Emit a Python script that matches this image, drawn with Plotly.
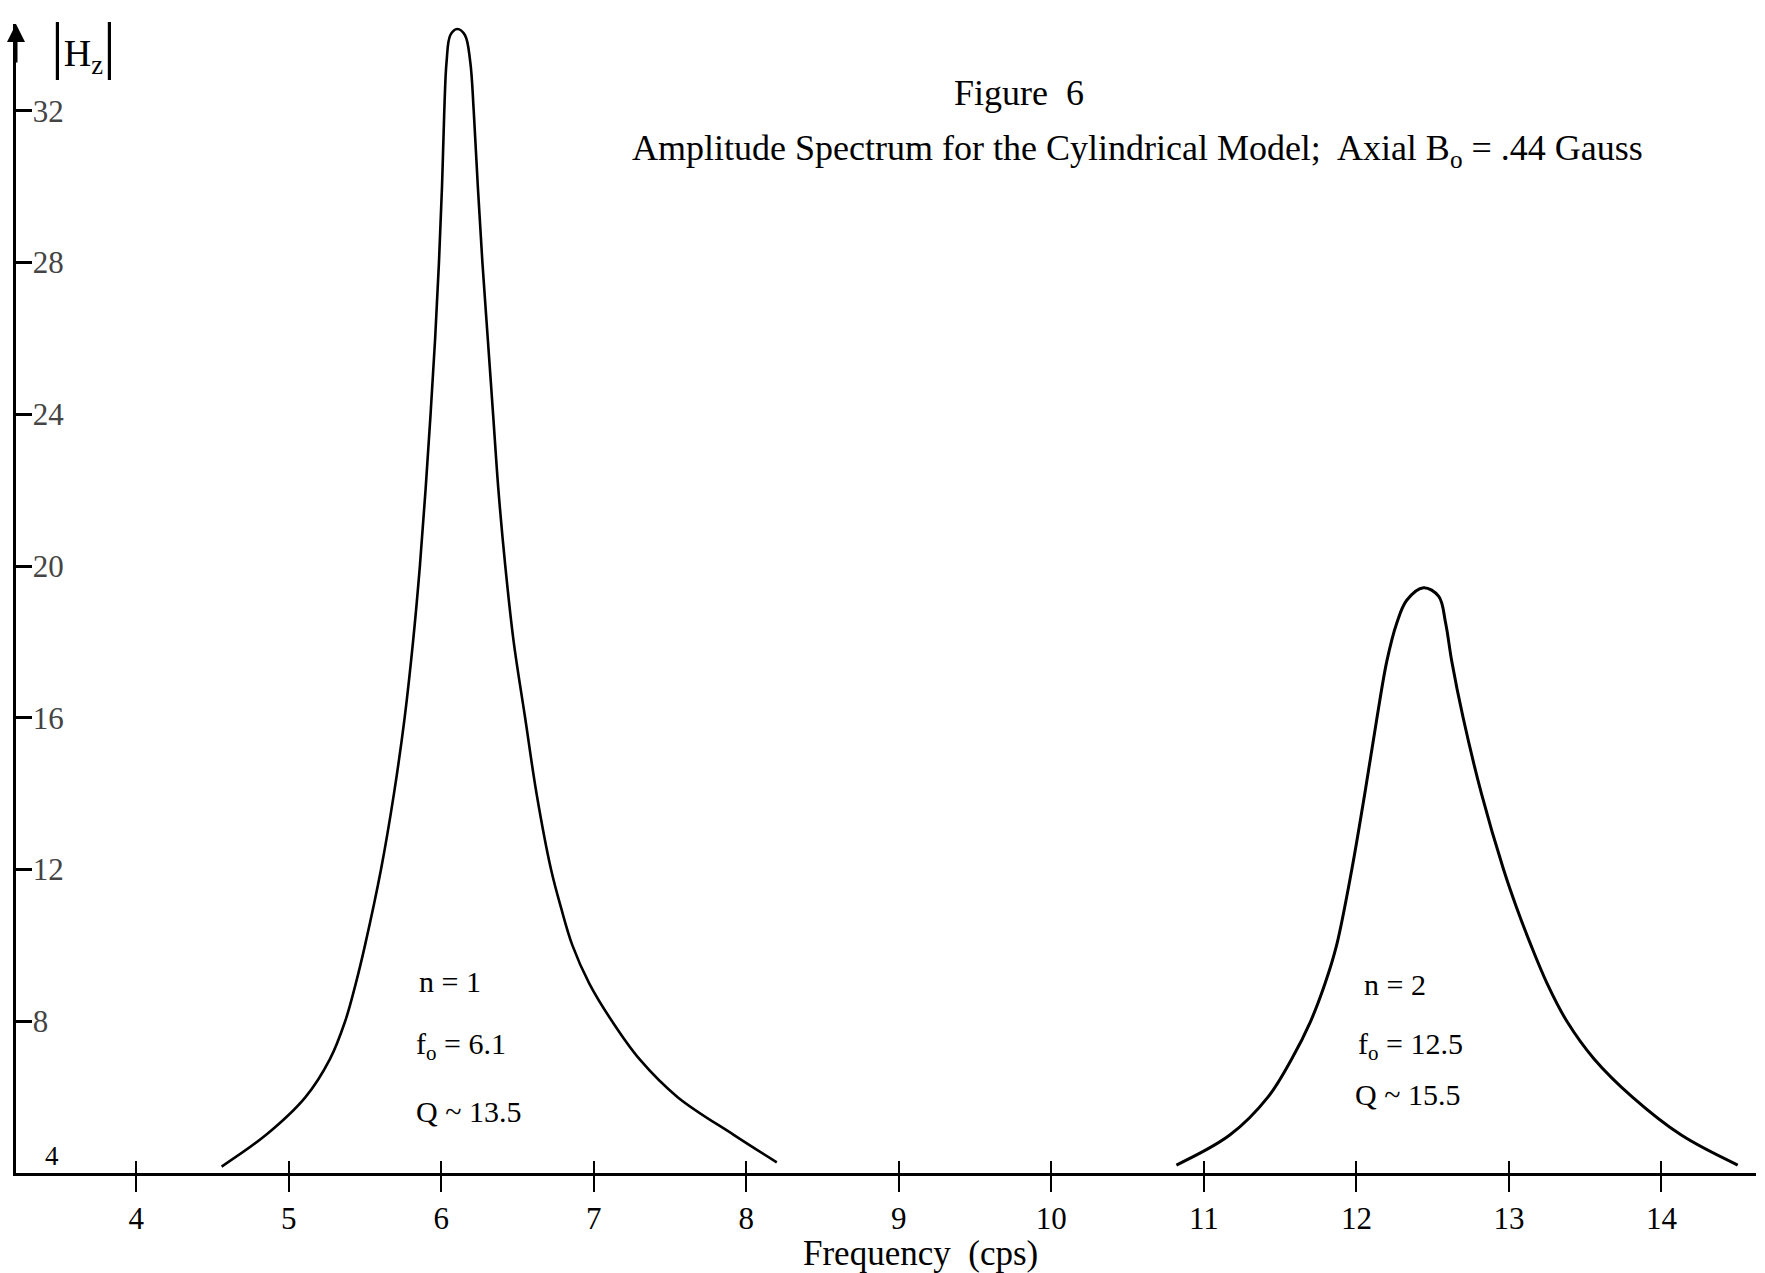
import plotly.graph_objects as go

# ---- data ----
freq_n1 = [4.56, 4.85, 5.11, 5.27, 5.37, 5.44, 5.50, 5.605, 5.69, 5.76, 5.815, 5.86,
           5.897, 5.93, 5.96, 5.985, 6.005, 6.02, 6.035, 6.06, 6.105,
           6.155, 6.19, 6.213, 6.24, 6.27, 6.305, 6.34, 6.375, 6.42, 6.475, 6.55,
           6.625, 6.72, 6.785, 6.86, 6.97, 7.12, 7.30, 7.55, 7.92, 8.20]
hz_n1 = [4.17, 5.0, 6.0, 7.0, 8.0, 9.0, 10.0, 12.0, 14.0, 16.0, 18.0, 20.0,
         22.0, 24.0, 26.0, 28.0, 30.0, 32.0, 33.3, 34.0, 34.16,
         34.0, 33.3, 32.0, 30.0, 28.0, 26.0, 24.0, 22.0, 20.0, 18.0, 16.0,
         14.0, 12.0, 11.0, 10.0, 9.0, 8.0, 7.0, 6.0, 5.0, 4.28]

freq_n2 = [10.82, 11.17, 11.42, 11.575, 11.70, 11.795, 11.87, 11.97, 12.055, 12.135,
           12.20, 12.265, 12.33, 12.44, 12.54, 12.585, 12.625, 12.70, 12.82, 12.965,
           13.05, 13.145, 13.25, 13.38, 13.56, 13.81, 14.13, 14.50]
hz_n2 = [4.21, 5.0, 6.0, 7.0, 8.0, 9.0, 10.0, 12.0, 14.0, 16.0,
         17.5, 18.5, 19.1, 19.43, 19.2, 18.5, 17.5, 16.0, 14.0, 12.0,
         11.0, 10.0, 9.0, 8.0, 7.0, 6.0, 5.0, 4.21]

x_ticks = [4, 5, 6, 7, 8, 9, 10, 11, 12, 13, 14]
y_ticks = [8, 12, 16, 20, 24, 28, 32]

x_range = [3.212, 14.62]
y_range = [4.0, 34.29]

FONT = "Liberation Serif"

fig = go.Figure()
fig.add_trace(go.Scatter(x=freq_n1, y=hz_n1, mode="lines",
                         line=dict(color="black", width=2.6, shape="spline", smoothing=1.0),
                         showlegend=False, hoverinfo="skip"))
fig.add_trace(go.Scatter(x=freq_n2, y=hz_n2, mode="lines",
                         line=dict(color="black", width=3, shape="spline", smoothing=1.0),
                         showlegend=False, hoverinfo="skip"))
# invisible trace to activate the overlay axis (inner half of crossing ticks)
fig.add_trace(go.Scatter(x=[x_range[0]], y=[y_range[0]], xaxis="x2", mode="markers",
                         marker=dict(opacity=0), showlegend=False, hoverinfo="skip"))

fig.update_layout(
    width=1765, height=1273,
    margin=dict(l=16, r=9, t=24, b=100),
    paper_bgcolor="white", plot_bgcolor="white",
    font=dict(family=FONT, color="black", size=30),
    xaxis=dict(range=x_range, tickvals=x_ticks, ticktext=[str(v) for v in x_ticks],
               ticks="outside", ticklen=16, tickwidth=2, tickcolor="black",
               showline=True, linecolor="black", linewidth=3, mirror=False,
               showgrid=False, zeroline=False,
               tickfont=dict(family=FONT, size=31)),
    xaxis2=dict(range=x_range, overlaying="x", side="bottom", tickvals=x_ticks,
                ticks="inside", ticklen=12, tickwidth=2, tickcolor="black",
                showticklabels=False, showgrid=False, zeroline=False, showline=False),
    yaxis=dict(range=y_range, tickvals=y_ticks, ticktext=[str(v) for v in y_ticks],
               ticks="inside", ticklen=16, tickwidth=2.5, tickcolor="black",
               ticklabelposition="inside", ticklabelstandoff=4,
               showline=True, linecolor="black", linewidth=3,
               showgrid=False, zeroline=False,
               tickfont=dict(family=FONT, size=31)),
)

ann = []
# arrow head on the y axis
ann.append(dict(x=x_range[0], y=y_range[1], xref="x", yref="y", text="", showarrow=True,
                ax=0, ay=40, arrowhead=2, arrowsize=1.2, arrowwidth=3, arrowcolor="black"))
# lowest y tick label sits just above the x axis
ann.append(dict(x=3.45, y=4.45, xref="x", yref="y", text="4", showarrow=False,
                xanchor="center", yanchor="middle", font=dict(size=27)))
# y axis label |Hz|
ann.append(dict(x=3.43, y=33.75, xref="x", yref="y",
                text="<span style='font-size:64px'>|</span>H<sub>z</sub><span style='font-size:64px'>|</span>",
                showarrow=False, xanchor="left", yanchor="middle", font=dict(size=38)))
# x axis title
ann.append(dict(x=9.14, y=4.0, xref="x", yref="y", yshift=-80, text="Frequency  (cps)",
                showarrow=False, xanchor="center", yanchor="middle", font=dict(size=35)))
# titles
ann.append(dict(x=9.79, y=32.46, xref="x", yref="y", text="Figure  6", showarrow=False,
                xanchor="center", yanchor="middle", font=dict(size=36)))
ann.append(dict(x=7.24, y=30.95, xref="x", yref="y",
                text="Amplitude Spectrum for the Cylindrical Model;  Axial B<sub>o</sub> = .44 Gauss",
                showarrow=False, xanchor="left", yanchor="middle", font=dict(size=36)))
# peak labels
labels = [
    (5.84, 9.04, "n = 1"), (5.82, 7.35, "f<sub>o</sub> = 6.1"), (5.82, 5.63, "Q ~ 13.5"),
    (12.04, 8.96, "n = 2"), (12.0, 7.35, "f<sub>o</sub> = 12.5"), (11.98, 6.08, "Q ~ 15.5"),
]
for x, y, t in labels:
    ann.append(dict(x=x, y=y, xref="x", yref="y", text=t, showarrow=False,
                    xanchor="left", yanchor="middle", font=dict(size=30)))
fig.update_layout(annotations=ann)

fig.write_html("out.html")
